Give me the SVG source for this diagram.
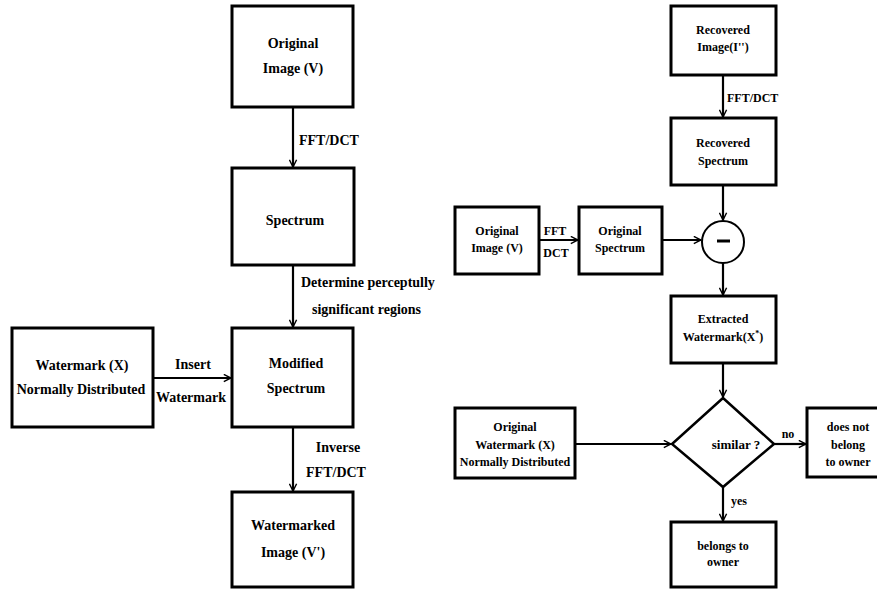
<svg xmlns="http://www.w3.org/2000/svg" width="877" height="591" viewBox="0 0 877 591">
<defs>
<marker id="arr" viewBox="0 0 10 10" refX="9" refY="5" markerWidth="9" markerHeight="9" markerUnits="userSpaceOnUse" orient="auto">
<path d="M1,1 L9,5 L1,9" fill="none" stroke="#000" stroke-width="1.6"/>
</marker>
<style>
.box{fill:none;stroke:#000;stroke-width:3}
.c{stroke:#000;stroke-width:2.2;fill:none;marker-end:url(#arr)}
text{font-family:"Liberation Serif","Times New Roman",serif;font-weight:bold;fill:#000}
.L{font-size:14px;text-anchor:middle}
.R{font-size:12px;text-anchor:middle}
.ls{font-size:14px}
.rs{font-size:12px}
</style>
</defs>
<rect width="877" height="591" fill="#fff"/>

<g id="connectors">
<line class="c" x1="293" y1="107" x2="293" y2="167"/>
<line class="c" x1="293" y1="265" x2="293" y2="327"/>
<line class="c" x1="153" y1="378" x2="231" y2="378"/>
<line class="c" x1="293" y1="427" x2="293" y2="491"/>
<line class="c" x1="723" y1="75" x2="723" y2="117"/>
<line class="c" x1="723" y1="185" x2="723" y2="220"/>
<line class="c" x1="539" y1="240" x2="578" y2="240"/>
<line class="c" x1="662" y1="240" x2="701" y2="240"/>
<line class="c" x1="723" y1="263" x2="723" y2="295"/>
<line class="c" x1="723" y1="363" x2="723" y2="397"/>
<line class="c" x1="575" y1="444" x2="671" y2="444"/>
<line class="c" x1="774" y1="444" x2="806" y2="444"/>
<line class="c" x1="723" y1="487" x2="723" y2="521"/>
<text class="ls" x="299" y="145">FFT/DCT</text>
<text class="ls" x="301" y="287">Determine perceptully</text>
<text class="ls" x="312" y="314">significant regions</text>
<text class="L" x="193" y="369">Insert</text>
<text class="L" x="191" y="402">Watermark</text>
<text class="L" x="338" y="452">Inverse</text>
<text class="L" x="336" y="477">FFT/DCT</text>
<text class="rs" x="727" y="102">FFT/DCT</text>
<text class="R" x="555" y="235">FFT</text>
<text class="R" x="556" y="257">DCT</text>
<text class="R" x="788" y="438">no</text>
<text class="R" x="739" y="505">yes</text>
</g>

<g id="original-image-left">
<rect class="box" x="232" y="6" width="121" height="101"/>
<text class="L" x="293" y="48">Original</text>
<text class="L" x="293" y="73">Image (V)</text>
</g>
<g id="spectrum">
<rect class="box" x="232" y="168" width="122" height="97"/>
<text class="L" x="295" y="225">Spectrum</text>
</g>
<g id="watermark-x">
<rect class="box" x="12" y="328" width="141" height="99"/>
<text class="L" x="82" y="370">Watermark (X)</text>
<text class="L" x="81" y="394">Normally Distributed</text>
</g>
<g id="modified-spectrum">
<rect class="box" x="232" y="328" width="121" height="99"/>
<text class="L" x="296" y="368">Modified</text>
<text class="L" x="296" y="393">Spectrum</text>
</g>
<g id="watermarked-image">
<rect class="box" x="232" y="492" width="121" height="95"/>
<text class="L" x="293" y="530">Watermarked</text>
<text class="L" x="293" y="557">Image (V')</text>
</g>

<g id="recovered-image">
<rect class="box" x="671" y="6" width="105" height="69"/>
<text class="R" x="723" y="34">Recovered</text>
<text class="R" x="723" y="51">Image(I'')</text>
</g>
<g id="recovered-spectrum">
<rect class="box" x="671" y="118" width="105" height="67"/>
<text class="R" x="723" y="147">Recovered</text>
<text class="R" x="723" y="165">Spectrum</text>
</g>
<g id="original-image-right">
<rect class="box" x="455" y="207" width="84" height="67"/>
<text class="R" x="497" y="235">Original</text>
<text class="R" x="497" y="252">Image (V)</text>
</g>
<g id="original-spectrum">
<rect class="box" x="579" y="207" width="83" height="67"/>
<text class="R" x="620" y="235">Original</text>
<text class="R" x="620" y="252">Spectrum</text>
</g>
<g id="subtract">
<circle cx="723" cy="242" r="21" fill="none" stroke="#000" stroke-width="2"/>
<line x1="717" y1="241" x2="730" y2="241" stroke="#000" stroke-width="3"/>
</g>
<g id="extracted-watermark">
<rect class="box" x="671" y="296" width="105" height="67"/>
<text class="R" x="723" y="323">Extracted</text>
<text class="R" x="723" y="341">Watermark(X<tspan font-size="8" dy="-5">*</tspan><tspan dy="5">)</tspan></text>
</g>
<g id="original-watermark">
<rect class="box" x="455" y="408" width="120" height="70"/>
<text class="R" x="515" y="431">Original</text>
<text class="R" x="515" y="449">Watermark (X)</text>
<text class="R" x="515" y="466">Normally Distributed</text>
</g>
<g id="similar">
<polygon points="723,398 774,444 723,487 672,444" fill="none" stroke="#000" stroke-width="2.5"/>
<text class="R" x="736" y="449" style="font-size:13px">similar ?</text>
</g>
<g id="does-not-belong">
<rect class="box" x="807" y="408" width="72" height="69"/>
<text class="R" x="848" y="431">does not</text>
<text class="R" x="848" y="449">belong</text>
<text class="R" x="848" y="466">to owner</text>
</g>
<g id="belongs">
<rect class="box" x="671" y="522" width="105" height="65"/>
<text class="R" x="723" y="550">belongs to</text>
<text class="R" x="723" y="566">owner</text>
</g>
</svg>
